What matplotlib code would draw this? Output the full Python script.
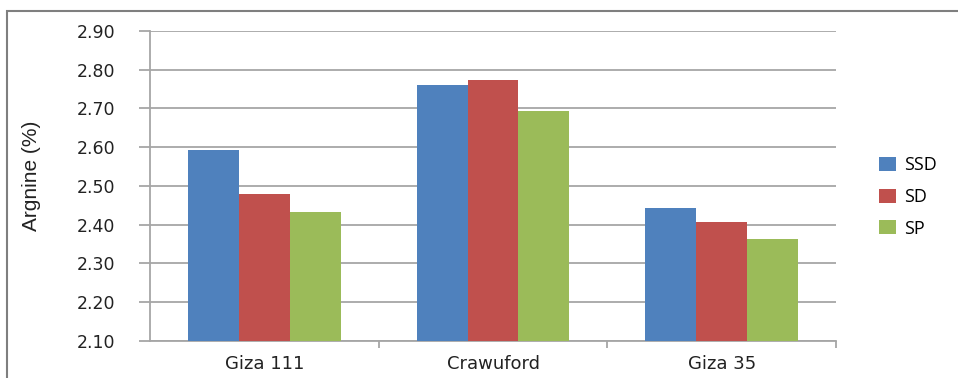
import matplotlib.pyplot as plt
import numpy as np
from matplotlib.patches import Rectangle

varieties = ['Giza 111', 'Crawuford', 'Giza 35']
treatments = ['SSD', 'SD', 'SP']
ssd = [2.593, 2.761, 2.442]
sd = [2.479, 2.774, 2.406]
sp = [2.433, 2.694, 2.363]
yticks = [2.10, 2.20, 2.30, 2.40, 2.50, 2.60, 2.70, 2.80, 2.90]

colors = ['#4F81BD', '#C0504D', '#9BBB59']
grid_col = '#A6A6A6'

fig = plt.figure(figsize=(9.58, 3.78), dpi=100)
ax = fig.add_axes([150/958, 37/378, 686/958, 310/378])

# outer chart frame, cut off at the right and bottom
fig.patches.append(Rectangle((7/958, -0.05), 1.0, 1 - 11/378 + 0.05, transform=fig.transFigure,
                             fill=False, edgecolor='#7F7F7F', linewidth=1.5))

x = np.arange(len(varieties))
w = 0.223
for i, (vals, name) in enumerate(zip([ssd, sd, sp], treatments)):
    ax.bar(x + (i - 1) * w, np.array(vals) - 2.10, width=w, bottom=2.10,
           color=colors[i], label=name, zorder=3)

ax.set_xlim(-0.5, 2.5)
ax.set_ylim(2.10, 2.90)
ax.set_yticks(yticks)
ax.set_yticklabels(['%.2f' % t for t in yticks], fontsize=12.5, color='#222222')
ax.yaxis.grid(True, color=grid_col, linewidth=1.3, zorder=0)
ax.tick_params(axis='y', length=8, width=1.3, color=grid_col, pad=17)

# category labels in the middle, tick marks on the boundaries
ax.set_xticks([0.5, 1.5, 2.5])
ax.set_xticklabels([])
ax.set_xticks(x, minor=True)
ax.set_xticklabels(varieties, minor=True, fontsize=13, color='#222222')
ax.tick_params(axis='x', which='major', length=5, width=1.3, color=grid_col, direction='out')
ax.tick_params(axis='x', which='minor', length=0, pad=10)

for s in ['top', 'right']:
    ax.spines[s].set_visible(False)
for s in ['left', 'bottom']:
    ax.spines[s].set_color(grid_col)
    ax.spines[s].set_linewidth(1.3)

fig.text(32/958, 1 - 176/378, 'Argnine (%)', rotation=90, ha='center', va='center',
         fontsize=15, family='Liberation Sans', color='#222222')

leg = ax.legend(loc='center left', bbox_to_anchor=(863/958, 1 - 197/378), bbox_transform=fig.transFigure,
                frameon=False, handlelength=0.9, handleheight=0.8,
                handletextpad=0.45, labelspacing=0.75, prop={'family': 'Open Sans', 'size': 13})

fig.savefig('out.png', dpi=100)
